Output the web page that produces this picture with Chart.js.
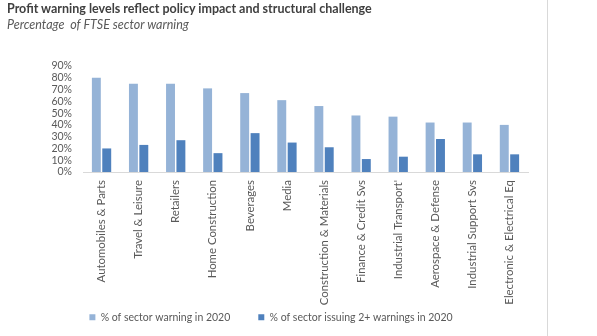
<!DOCTYPE html>
<html>
<head>
<meta charset="utf-8">
<script src="https://cdn.jsdelivr.net/npm/chart.js@4/dist/chart.umd.min.js"></script>
<style>
  html, body { margin: 0; padding: 0; background: #fff; }
  #wrap { position: relative; width: 597px; height: 336px; overflow: hidden; font-family: Lato, "Open Sans", sans-serif; }
  #title { position: absolute; left: 7px; top: 1px; font-size: 12.5px; font-weight: bold; color: #404040; white-space: nowrap; }
  #subtitle { position: absolute; left: 7px; top: 17px; font-size: 12.5px; font-style: italic; color: #595959; white-space: pre; }
  #box { position: absolute; left: 0; top: 0; width: 547px; height: 336px; }
  #edge { position: absolute; left: 547px; top: 0; width: 1px; height: 336px; background: #d9d9d9; }
</style>
</head>
<body>
<div id="wrap">
  <div id="box"><canvas id="chart"></canvas></div>
  <div id="title">Profit warning levels reflect policy impact and structural challenge</div>
  <div id="subtitle">Percentage  of FTSE sector warning</div>
  <div id="edge"></div>
</div>
<script>
// FTSE sectors, ordered by share of companies warning in 2020
const sectors = [
  'Automobiles & Parts', 'Travel & Leisure', 'Retailers', 'Home Construction',
  'Beverages', 'Media', 'Construction & Materials', 'Finance & Credit Svs',
  "Industrial Transport'", 'Aerospace & Defense', 'Industrial Support Svs',
  'Electronic & Electrical Eq'
];
// % of sector issuing a profit warning in 2020
const warned2020 = [80, 75, 75, 71, 67, 61, 56, 48, 47, 42, 42, 40];
// % of sector issuing two or more warnings in 2020
const multiWarned2020 = [20, 23, 27, 16, 33, 25, 21, 11, 13, 28, 15, 15];
// y-axis ticks (percent)
const yTicks = [0, 10, 20, 30, 40, 50, 60, 70, 80, 90];

const seriesNames = ['% of sector warning in 2020', '% of sector issuing 2+ warnings in 2020'];
const gray = '#595959';
const family = 'Lato, "Open Sans", sans-serif';

// Keeps wide item spacing in the legend while pulling its row up closer to the axis labels.
const legendLift = {
  id: 'legendLift',
  afterLayout(chart, args, opts) {
    const lg = chart.legend;
    if (lg) { lg.top -= opts.by; }
  }
};

new Chart(document.getElementById('chart'), {
  type: 'bar',
  data: {
    labels: sectors,
    datasets: [
      { label: seriesNames[0], data: warned2020, backgroundColor: '#95b3d7',
        categoryPercentage: 0.56, barPercentage: 0.86 },
      { label: seriesNames[1], data: multiWarned2020, backgroundColor: '#4f81bd',
        categoryPercentage: 0.56, barPercentage: 0.86 }
    ]
  },
  plugins: [legendLift],
  options: {
    responsive: true,
    maintainAspectRatio: false,
    animation: false,
    layout: { padding: { left: 14, right: 19, top: 66, bottom: 0 } },
    plugins: {
      tooltip: { enabled: false },
      legendLift: { by: 23 },
      legend: {
        position: 'bottom',
        maxHeight: 29,
        labels: {
          boxWidth: 6, boxHeight: 6, padding: 28, color: gray,
          font: { family: family, size: 10.5 }
        }
      }
    },
    scales: {
      x: {
        grid: { display: false, drawTicks: false },
        border: { color: '#d9d9d9' },
        ticks: { color: gray, font: { family: family, size: 11.4 }, minRotation: 90, maxRotation: 90, padding: 8, autoSkip: false },
        afterFit: s => { s.height = 135; }
      },
      y: {
        min: 0, max: 90,
        afterBuildTicks: s => { s.ticks = yTicks.map(v => ({ value: v })); },
        grid: { display: false, drawTicks: false },
        border: { display: false },
        ticks: { color: gray, font: { family: family, size: 10.5 }, padding: 11, autoSkip: false, callback: v => v + '%' },
        afterFit: s => { s.width = 69; }
      }
    }
  }
});
</script>
</body>
</html>
